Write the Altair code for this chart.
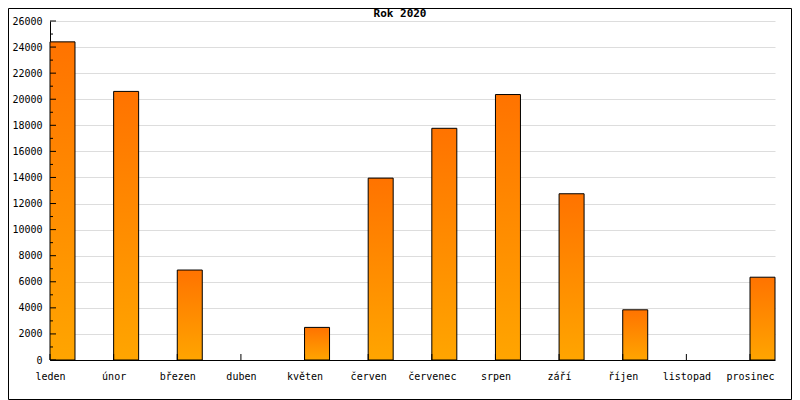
import altair as alt
import pandas as pd

months = ["leden", "únor", "březen", "duben", "květen", "červen",
          "červenec", "srpen", "září", "říjen", "listopad", "prosinec"]
values = [24400, 20600, 6900, 0, 2500, 13950, 17770, 20360, 12750, 3850, 0, 6350]
y_major = list(range(0, 26001, 2000))
y_minor = list(range(1000, 26000, 2000))
title_text = "Rok 2020"

FONT = "DejaVu Sans Mono"
W, H = 725, 339
BAR_W = 25 / 63.64  # bar width in category units

df = pd.DataFrame({"i": list(range(len(months))), "mesic": months, "hodnota": values})

x_scale = alt.Scale(domain=[0, len(months) - 1 + BAR_W], nice=False, zero=False)
y_scale = alt.Scale(domain=[0, 26000], nice=False)

label_js = "[" + ",".join("'" + m + "'" for m in months) + "][datum.value]"

x_axis = alt.Axis(
    values=list(range(len(months))), labelExpr=label_js, ticks=False,
    grid=False, labelPadding=11, labelFont=FONT, labelFontSize=10,
    labelColor="black", domainColor="black", title=None,
    labelFlush=False, labelOverlap=False, labelBound=False)
y_axis = alt.Axis(
    values=y_major, format="d", ticks=False, grid=True, gridColor="#dddddd",
    labelPadding=8, labelFont=FONT, labelFontSize=10, labelColor="black",
    domainColor="black", title=None, labelOverlap=False, labelFlush=False)

gradient = alt.Gradient(
    gradient="linear",
    stops=[alt.GradientStop(color="#ff7300", offset=0),
           alt.GradientStop(color="#ffa500", offset=1)],
    x1=0, x2=0, y1=0, y2=1,
)

bars = alt.Chart(df).transform_filter(
    "datum.hodnota > 0"
).transform_calculate(
    x2=f"datum.i + {BAR_W}"
).mark_bar(fill=gradient, stroke="black", strokeWidth=1).encode(
    x=alt.X("i:Q", scale=x_scale, axis=x_axis),
    x2="x2:Q",
    y=alt.Y("hodnota:Q", scale=y_scale, axis=y_axis),
    y2=alt.datum(0),
)

ytick_major = alt.Chart(pd.DataFrame({"v": y_major})).mark_rule(color="black").encode(
    y=alt.Y("v:Q", scale=y_scale, axis=y_axis), x=alt.value(0), x2=alt.value(6))
ytick_minor = alt.Chart(pd.DataFrame({"v": y_minor})).mark_rule(color="black").encode(
    y=alt.Y("v:Q", scale=y_scale, axis=y_axis), x=alt.value(0), x2=alt.value(3))
xticks = alt.Chart(df).mark_rule(color="black").encode(
    x=alt.X("i:Q", scale=x_scale, axis=x_axis), y=alt.value(H - 6), y2=alt.value(H))

title = alt.Chart(alt.Data(values=[{"t": title_text}])).mark_text(
    font=FONT, fontWeight="bold", fontSize=11, align="center", baseline="middle",
    color="black").encode(text="t:N", x=alt.value(350), y=alt.value(-7))

border = alt.Chart(alt.Data(values=[{"t": 1}])).mark_rect(
    fill="transparent", stroke="black", strokeWidth=1).encode(
    x=alt.value(-41.5), x2=alt.value(W + 16.5), y=alt.value(-12.5), y2=alt.value(H + 39.5))

chart = alt.layer(bars, xticks, ytick_major, ytick_minor, title, border).properties(
    width=W, height=H,
    padding={"left": 42, "top": 13, "right": 17, "bottom": 40},
    autosize=alt.AutoSizeParams(type="none"),
    background="white",
).configure_view(stroke=None)

chart.save("out.html", embed_options={"renderer": "svg", "actions": False})
